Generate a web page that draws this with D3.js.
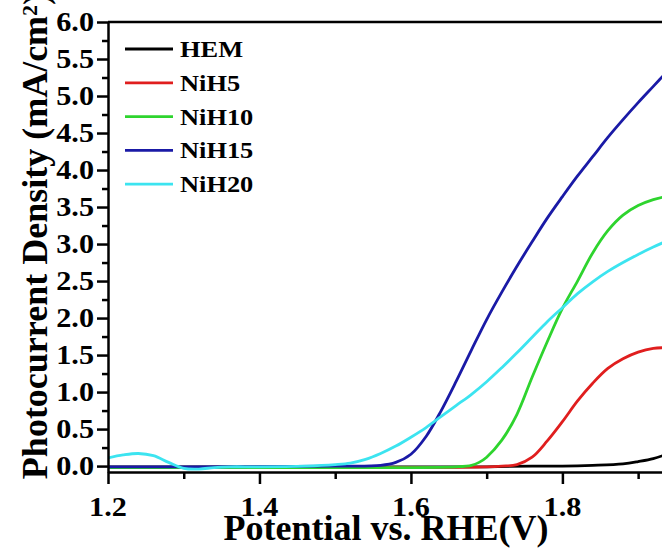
<!DOCTYPE html>
<html>
<head>
<meta charset="utf-8">
<script src="https://cdn.jsdelivr.net/npm/d3@7"></script>
<style>
  body { margin: 0; background: #fff; }
  text { font-family: "Liberation Serif", "Times New Roman", serif; font-weight: bold; fill: #000; }
</style>
</head>
<body>
<div id="chart"></div>
<script>
// series data
var hemX = [1.20, 1.40, 1.60, 1.70, 1.76, 1.80, 1.84, 1.88, 1.90, 1.92, 1.94];
var hemY = [-0.01, -0.01, -0.01, -0.01, 0.0, 0.0, 0.01, 0.03, 0.06, 0.10, 0.17];

var nih5X = [1.20, 1.50, 1.70, 1.72, 1.74, 1.76, 1.78, 1.80, 1.82, 1.84, 1.86, 1.88, 1.90, 1.92, 1.94];
var nih5Y = [-0.02, -0.02, -0.01, 0.0, 0.02, 0.12, 0.34, 0.6, 0.88, 1.12, 1.32, 1.45, 1.54, 1.59, 1.60];

var nih10X = [1.20, 1.50, 1.66, 1.68, 1.69, 1.70, 1.72, 1.74, 1.76, 1.78, 1.80, 1.82, 1.84, 1.86, 1.88, 1.90, 1.92, 1.94];
var nih10Y = [-0.02, -0.02, -0.01, 0.01, 0.05, 0.12, 0.35, 0.7, 1.2, 1.68, 2.13, 2.5, 2.88, 3.18, 3.39, 3.52, 3.6, 3.65];

var nih15X = [1.20, 1.30, 1.50, 1.56, 1.58, 1.60, 1.62, 1.64, 1.66, 1.68, 1.70, 1.72, 1.74, 1.76, 1.78, 1.80, 1.82, 1.84, 1.86, 1.88, 1.90, 1.92, 1.94];
var nih15Y = [-0.01, -0.01, 0.0, 0.01, 0.05, 0.16, 0.4, 0.75, 1.15, 1.57, 1.98, 2.35, 2.7, 3.03, 3.35, 3.64, 3.92, 4.18, 4.44, 4.68, 4.91, 5.13, 5.35];

var nih20X = [1.20, 1.22, 1.24, 1.26, 1.28, 1.30, 1.32, 1.34, 1.36, 1.40, 1.46, 1.50, 1.52, 1.54, 1.56, 1.58, 1.60, 1.62, 1.64, 1.66, 1.68, 1.70, 1.72, 1.74, 1.76, 1.78, 1.80, 1.82, 1.84, 1.86, 1.88, 1.90, 1.92, 1.94];
var nih20Y = [0.11, 0.15, 0.17, 0.14, 0.05, -0.03, -0.04, -0.02, -0.01, -0.01, 0.0, 0.02, 0.04, 0.09, 0.17, 0.27, 0.39, 0.52, 0.67, 0.82, 0.97, 1.14, 1.33, 1.53, 1.74, 1.95, 2.14, 2.33, 2.49, 2.63, 2.75, 2.86, 2.96, 3.05];

var seriesNames = ["HEM", "NiH5", "NiH10", "NiH15", "NiH20"];
var seriesColors = ["#000000", "#e01e1e", "#2ed42e", "#1a1aa6", "#3ce4f0"];

var xMajor = [1.2, 1.4, 1.6, 1.8];
var xMinor = [1.3, 1.5, 1.7, 1.9];
var yMajor = [0, 0.5, 1, 1.5, 2, 2.5, 3, 3.5, 4, 4.5, 5, 5.5, 6];
var yMinor = [0.25, 0.75, 1.25, 1.75, 2.25, 2.75, 3.25, 3.75, 4.25, 4.75, 5.25, 5.75];

var W = 662, H = 555;
var pLeft = 108, pTop = 22, pRight = 676, pBottom = 472;

var svg = d3.select("#chart").append("svg")
    .attr("width", W).attr("height", H);

var x = d3.scaleLinear().domain([1.2, 1.95]).range([pLeft, pRight]);
var y = d3.scaleLinear().domain([-0.08, 6.0]).range([pBottom, pTop]);

svg.append("clipPath").attr("id", "plotclip")
  .append("rect").attr("x", pLeft).attr("y", pTop).attr("width", pRight - pLeft).attr("height", pBottom - pTop);

// lines
var allX = [hemX, nih5X, nih10X, nih15X, nih20X];
var allY = [hemY, nih5Y, nih10Y, nih15Y, nih20Y];
var line = d3.line().x(d => x(d[0])).y(d => y(d[1])).curve(d3.curveCatmullRom.alpha(0.5));

var gLines = svg.append("g").attr("clip-path", "url(#plotclip)");
[0, 1, 2, 3, 4].forEach(function (i) {
    var pts = allX[i].map((v, k) => [v, allY[i][k]]);
    gLines.append("path")
        .attr("d", line(pts))
        .attr("fill", "none")
        .attr("stroke", seriesColors[i])
        .attr("stroke-width", 2.8);
});

// top frame
svg.append("line")
    .attr("x1", pLeft).attr("x2", pRight).attr("y1", pTop).attr("y2", pTop)
    .attr("stroke", "#000").attr("stroke-width", 2.5);

// axes
var fmt = d3.format(".1f");
function styleAxis(g) {
    g.selectAll("path, line").attr("stroke", "#000").attr("stroke-width", 2.5);
}

var xAxis = svg.append("g").attr("transform", "translate(0," + pBottom + ")")
    .call(d3.axisBottom(x).tickValues(xMajor).tickSize(12).tickSizeOuter(0).tickFormat(""));
svg.append("g").attr("transform", "translate(0," + pBottom + ")")
    .call(d3.axisBottom(x).tickValues(xMinor).tickSize(7).tickFormat(""))
    .call(g => g.select(".domain").remove())
    .call(styleAxis);
styleAxis(xAxis);

var yAxis = svg.append("g").attr("transform", "translate(" + pLeft + ",0)")
    .call(d3.axisLeft(y).tickValues(yMajor).tickSize(11).tickSizeOuter(0).tickFormat(""));
svg.append("g").attr("transform", "translate(" + pLeft + ",0)")
    .call(d3.axisLeft(y).tickValues(yMinor).tickSize(6).tickFormat(""))
    .call(g => g.select(".domain").remove())
    .call(styleAxis);
styleAxis(yAxis);

// tick labels (slightly wide, like the picture)
svg.append("g").selectAll("text").data(xMajor).join("text")
    .attr("transform", d => "translate(" + x(d) + ",516) scale(1.12,1)")
    .attr("text-anchor", "middle")
    .style("font-size", "27px")
    .text(fmt);

svg.append("g").selectAll("text").data(yMajor).join("text")
    .attr("transform", d => "translate(94," + (y(d) + 9) + ") scale(1.12,1)")
    .attr("text-anchor", "end")
    .style("font-size", "27px")
    .text(fmt);

// axis titles
svg.append("text")
    .attr("x", 386).attr("y", 540)
    .attr("text-anchor", "middle")
    .style("font-size", "36px")
    .text("Potential vs. RHE(V)");

var yt = svg.append("text")
    .attr("transform", "translate(47,236) rotate(-90)")
    .attr("text-anchor", "middle")
    .style("font-size", "36px");
yt.append("tspan").text("Photocurrent Density (mA/cm");
yt.append("tspan").attr("dy", "-0.45em").style("font-size", "22px").text("2");
yt.append("tspan").attr("dy", "0.3em").text(")");

// legend
var legend = svg.append("g");
seriesNames.forEach(function (name, i) {
    var ly = 49 + i * 33.8;
    legend.append("line")
        .attr("x1", 125).attr("x2", 173).attr("y1", ly).attr("y2", ly)
        .attr("stroke", seriesColors[i]).attr("stroke-width", 2.8);
    legend.append("text")
        .attr("transform", "translate(180," + (ly + 8) + ") scale(1.1,1)")
        .style("font-size", "24px")
        .text(name);
});
</script>
</body>
</html>
